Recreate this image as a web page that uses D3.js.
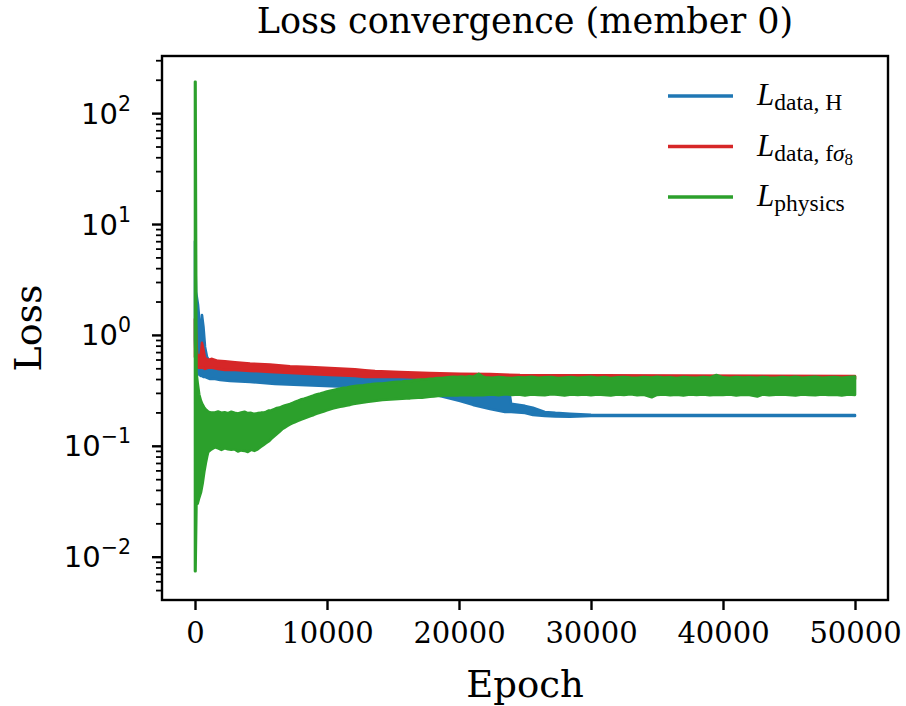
<!DOCTYPE html>
<html>
<head>
<meta charset="utf-8">
<script src="https://cdn.jsdelivr.net/npm/d3@7/dist/d3.min.js"></script>
<style>
  html, body { margin: 0; padding: 0; background: #ffffff; }
  svg { display: block; }
</style>
</head>
<body>
<svg id="chart" width="906" height="706"></svg>
<script>
// ---- data: per-epoch loss envelopes [epoch, low, high] ----
const blueBand = [
  [0, 0.9, 7.0], [80, 0.464, 2.44], [230, 0.455, 1.86], [340, 0.436, 1.31],
  [450, 0.427, 0.78], [530, 0.427, 1.51], [640, 0.418, 1.18], [760, 0.418, 0.78],
  [910, 0.41, 0.633], [1140, 0.401, 0.571], [1520, 0.401, 0.548], [1900, 0.393, 0.537],
  [2650, 0.385, 0.526], [4170, 0.377, 0.505], [6060, 0.362, 0.484], [7950, 0.354, 0.464],
  [9850, 0.347, 0.455], [11740, 0.340, 0.445], [13260, 0.333, 0.436], [14000, 0.326, 0.427],
  [15500, 0.313, 0.41], [17050, 0.300, 0.393], [18560, 0.282, 0.369], [20080, 0.254, 0.34],
  [21060, 0.234, 0.313], [22350, 0.215, 0.294], [23480, 0.202, 0.288], [23850, 0.202, 0.288],
  [23950, 0.202, 0.239], [25000, 0.198, 0.229], [25600, 0.190, 0.220], [26500, 0.186, 0.202],
  [27300, 0.184, 0.198], [28400, 0.183, 0.194], [30000, 0.186, 0.190], [50000, 0.186, 0.189]
];

const redBand = [
  [0, 0.633, 1.39], [60, 0.62, 1.2], [150, 0.515, 0.674], [300, 0.505, 0.647],
  [450, 0.505, 0.674], [530, 0.505, 0.847], [640, 0.505, 0.733], [760, 0.494, 0.620],
  [985, 0.505, 0.595], [1290, 0.505, 0.608], [1740, 0.494, 0.583], [2270, 0.484, 0.578],
  [3030, 0.484, 0.566], [4170, 0.474, 0.552], [5680, 0.464, 0.540], [7200, 0.455, 0.522],
  [8710, 0.445, 0.512], [10230, 0.436, 0.502], [12120, 0.427, 0.490], [12880, 0.418, 0.480],
  [13640, 0.418, 0.472], [15530, 0.418, 0.462], [17800, 0.41, 0.453], [20080, 0.41, 0.445],
  [22350, 0.401, 0.443], [24620, 0.401, 0.434], [50000, 0.401, 0.425]
];

const greenBand = [
  [0, 0.0074, 192], [40, 0.0074, 192], [110, 0.03, 0.46], [200, 0.03, 0.37],
  [320, 0.034, 0.29], [450, 0.038, 0.255], [580, 0.046, 0.235], [700, 0.058, 0.222],
  [820, 0.07, 0.212], [920, 0.08, 0.208], [1000, 0.088, 0.203], [1250, 0.093, 0.199],
  [1500, 0.097, 0.2], [1750, 0.095, 0.204], [2000, 0.092, 0.199], [2250, 0.095, 0.201],
  [2500, 0.093, 0.197], [2750, 0.092, 0.203], [3000, 0.093, 0.199], [3250, 0.089, 0.196],
  [3500, 0.091, 0.2], [3750, 0.09, 0.203], [4000, 0.088, 0.197], [4250, 0.092, 0.198],
  [4500, 0.09, 0.194], [4750, 0.093, 0.197], [5000, 0.098, 0.199], [5200, 0.102, 0.199],
  [5400, 0.106, 0.203], [5600, 0.11, 0.208], [5800, 0.116, 0.209], [6000, 0.122, 0.214],
  [6200, 0.128, 0.219], [6400, 0.134, 0.221], [6600, 0.141, 0.226], [6800, 0.146, 0.231],
  [7000, 0.151, 0.235], [7200, 0.156, 0.238], [7400, 0.16, 0.244], [7600, 0.164, 0.25],
  [7800, 0.168, 0.255], [8000, 0.172, 0.261], [8250, 0.176, 0.266], [8500, 0.181, 0.272],
  [8750, 0.186, 0.278], [9000, 0.19, 0.285], [9250, 0.195, 0.291], [9500, 0.2, 0.296],
  [9750, 0.204, 0.302], [10000, 0.209, 0.309], [10250, 0.214, 0.314], [10500, 0.218, 0.319],
  [10750, 0.222, 0.324], [11000, 0.225, 0.328], [11250, 0.228, 0.333], [11500, 0.231, 0.336],
  [11750, 0.234, 0.34], [12000, 0.238, 0.344], [12250, 0.241, 0.347], [12500, 0.244, 0.35],
  [12750, 0.246, 0.352], [13000, 0.249, 0.355], [13300, 0.251, 0.358], [13600, 0.254, 0.362],
  [13900, 0.257, 0.365], [14200, 0.259, 0.365], [14500, 0.261, 0.369], [14800, 0.262, 0.372],
  [15100, 0.263, 0.375], [15400, 0.265, 0.378], [15700, 0.266, 0.38], [16000, 0.267, 0.384],
  [16300, 0.268, 0.383], [16600, 0.27, 0.389], [16900, 0.271, 0.393], [17200, 0.272, 0.396],
  [17500, 0.274, 0.398], [17800, 0.277, 0.402], [18100, 0.279, 0.405], [18400, 0.281, 0.409],
  [18700, 0.283, 0.408], [19000, 0.285, 0.413], [19300, 0.286, 0.417], [19600, 0.284, 0.419],
  [19900, 0.285, 0.416], [20200, 0.287, 0.421], [20500, 0.286, 0.418], [20800, 0.288, 0.424],
  [21100, 0.285, 0.42], [21500, 0.287, 0.445], [21800, 0.286, 0.421], [22000, 0.288, 0.415],
  [22500, 0.29, 0.41], [23000, 0.286, 0.418], [23500, 0.292, 0.412], [24000, 0.287, 0.408],
  [24500, 0.29, 0.415], [25000, 0.285, 0.412], [25500, 0.291, 0.42], [26000, 0.288, 0.41],
  [26500, 0.286, 0.414], [27000, 0.292, 0.418], [27500, 0.289, 0.408], [28000, 0.284, 0.413],
  [28500, 0.29, 0.417], [29000, 0.287, 0.41], [29500, 0.291, 0.415], [30000, 0.286, 0.42],
  [30500, 0.29, 0.411], [31000, 0.288, 0.416], [31500, 0.284, 0.409], [32000, 0.29, 0.414],
  [32500, 0.287, 0.418], [33000, 0.292, 0.412], [33500, 0.286, 0.41], [34000, 0.289, 0.416],
  [34600, 0.274, 0.413], [35000, 0.288, 0.42], [35500, 0.291, 0.412], [36000, 0.286, 0.415],
  [36500, 0.289, 0.409], [37000, 0.285, 0.417], [37500, 0.29, 0.413], [38000, 0.287, 0.41],
  [38500, 0.291, 0.418], [39000, 0.286, 0.412], [39500, 0.289, 0.435], [40000, 0.288, 0.414],
  [40500, 0.29, 0.41], [41000, 0.285, 0.417], [41500, 0.289, 0.412], [42000, 0.287, 0.415],
  [42600, 0.278, 0.41], [43000, 0.29, 0.418], [43500, 0.286, 0.412], [44000, 0.289, 0.41],
  [44500, 0.291, 0.416], [45000, 0.287, 0.413], [45500, 0.284, 0.419], [46000, 0.29, 0.411],
  [46500, 0.288, 0.415], [47000, 0.286, 0.42], [47500, 0.291, 0.41], [48000, 0.287, 0.414],
  [48500, 0.289, 0.417], [49000, 0.285, 0.411], [49500, 0.29, 0.418], [50000, 0.288, 0.422]
];

const seriesColors = ["#1f77b4", "#d62728", "#2ca02c"];
const xTicks = [0, 10000, 20000, 30000, 40000, 50000];
const yExponents = [-2, -1, 0, 1, 2];
const xDomain = [-2500, 52500];
const yDomain = [0.004069, 327.5];

// ---- layout ----
const svg = d3.select("#chart");
const plot = { left: 162, right: 888, top: 56, bottom: 600 };
const x = d3.scaleLinear().domain(xDomain).range([plot.left, plot.right]);
const y = d3.scaleLog().domain(yDomain).range([plot.bottom, plot.top]);

const serif = "'DejaVu Serif', serif";
const sans = "'DejaVu Sans', sans-serif";
const mathFont = "'Liberation Serif', 'Times New Roman', serif";

svg.append("rect").attr("width", 906).attr("height", 706).attr("fill", "#ffffff");

// clip region for the data
svg.append("clipPath").attr("id", "plotClip")
  .append("rect")
  .attr("x", plot.left).attr("y", plot.top)
  .attr("width", plot.right - plot.left).attr("height", plot.bottom - plot.top);

const band = d3.area()
  .x(d => x(d[0]))
  .y0(d => y(d[1]))
  .y1(d => y(d[2]));

const dataG = svg.append("g").attr("clip-path", "url(#plotClip)");
[blueBand, redBand, greenBand].forEach((s, i) => {
  dataG.append("path")
    .datum(s)
    .attr("d", band)
    .attr("fill", seriesColors[i])
    .attr("stroke", seriesColors[i])
    .attr("stroke-width", 2.6)
    .attr("stroke-linejoin", "round");
});

// ---- axes ----
const xAxis = svg.append("g")
  .attr("transform", `translate(0,${plot.bottom})`)
  .call(d3.axisBottom(x).tickValues(xTicks).tickSize(10).tickPadding(12).tickFormat(d3.format("d")));
xAxis.select(".domain").remove();
xAxis.selectAll(".tick line").attr("stroke", "#000").attr("stroke-width", 2.4);
xAxis.selectAll(".tick text")
  .attr("font-family", serif).attr("font-size", 29).attr("fill", "#000");

const yMajor = yExponents.map(e => Math.pow(10, e));
const yMinor = [];
for (let k = -3; k <= 2; k++) {
  for (let m = 2; m <= 9; m++) {
    const v = m * Math.pow(10, k);
    if (v >= yDomain[0] && v <= yDomain[1]) yMinor.push(v);
  }
}

const yMinorAxis = svg.append("g")
  .attr("transform", `translate(${plot.left},0)`)
  .call(d3.axisLeft(y).tickValues(yMinor).tickSize(6).tickFormat(""));
yMinorAxis.select(".domain").remove();
yMinorAxis.selectAll(".tick line").attr("stroke", "#000").attr("stroke-width", 1.8);

const yAxis = svg.append("g")
  .attr("transform", `translate(${plot.left},0)`)
  .call(d3.axisLeft(y).tickValues(yMajor).tickSize(10).tickFormat(""));
yAxis.select(".domain").remove();
yAxis.selectAll(".tick line").attr("stroke", "#000").attr("stroke-width", 2.4);

// y tick labels: 10 with superscript exponent
yExponents.forEach(e => {
  const t = svg.append("text")
    .attr("x", 131)
    .attr("y", y(Math.pow(10, e)) + 10.5)
    .attr("text-anchor", "end")
    .attr("font-family", sans)
    .attr("fill", "#000");
  t.append("tspan").attr("font-size", 29).text("10");
  t.append("tspan").attr("font-size", 20.5).attr("dy", -13)
    .text(e < 0 ? "\u2212" + Math.abs(e) : String(e));
});

// frame
svg.append("rect")
  .attr("x", plot.left).attr("y", plot.top)
  .attr("width", plot.right - plot.left).attr("height", plot.bottom - plot.top)
  .attr("fill", "none").attr("stroke", "#000").attr("stroke-width", 2.4);

// ---- titles ----
svg.append("text")
  .attr("x", (plot.left + plot.right) / 2).attr("y", 33)
  .attr("text-anchor", "middle")
  .attr("font-family", serif).attr("font-size", 35).attr("fill", "#000")
  .text("Loss convergence (member 0)");

svg.append("text")
  .attr("x", (plot.left + plot.right) / 2).attr("y", 697)
  .attr("text-anchor", "middle")
  .attr("font-family", serif).attr("font-size", 37).attr("fill", "#000")
  .text("Epoch");

svg.append("text")
  .attr("transform", `translate(41,${(plot.top + plot.bottom) / 2}) rotate(-90)`)
  .attr("text-anchor", "middle")
  .attr("font-family", serif).attr("font-size", 38).attr("fill", "#000")
  .text("Loss");

// ---- legend ----
const legendRows = [
  { color: seriesColors[0], parts: [["L", "i", 0], ["data, H", "r", 1]] },
  { color: seriesColors[1], parts: [["L", "i", 0], ["data, f", "r", 1], ["\u03c3", "i", 1], ["8", "r", 2]] },
  { color: seriesColors[2], parts: [["L", "i", 0], ["physics", "r", 1]] }
];
const legendTop = 96, legendStep = 50.5;
legendRows.forEach((row, i) => {
  const cy = legendTop + i * legendStep;
  svg.append("line")
    .attr("x1", 668).attr("x2", 733).attr("y1", cy).attr("y2", cy)
    .attr("stroke", row.color).attr("stroke-width", 3.6);
  const t = svg.append("text")
    .attr("x", 757).attr("y", cy + 9)
    .attr("font-family", mathFont).attr("fill", "#000");
  const sizes = [31, 23.5, 17];
  const shifts = [0, 5, 9];
  let level = 0;
  row.parts.forEach(([str, style, lvl]) => {
    const sp = t.append("tspan")
      .attr("font-size", sizes[lvl])
      .attr("font-style", style === "i" ? "italic" : "normal")
      .text(str);
    if (lvl !== level) sp.attr("dy", shifts[lvl] - shifts[level]);
    level = lvl;
  });
});
</script>
</body>
</html>
